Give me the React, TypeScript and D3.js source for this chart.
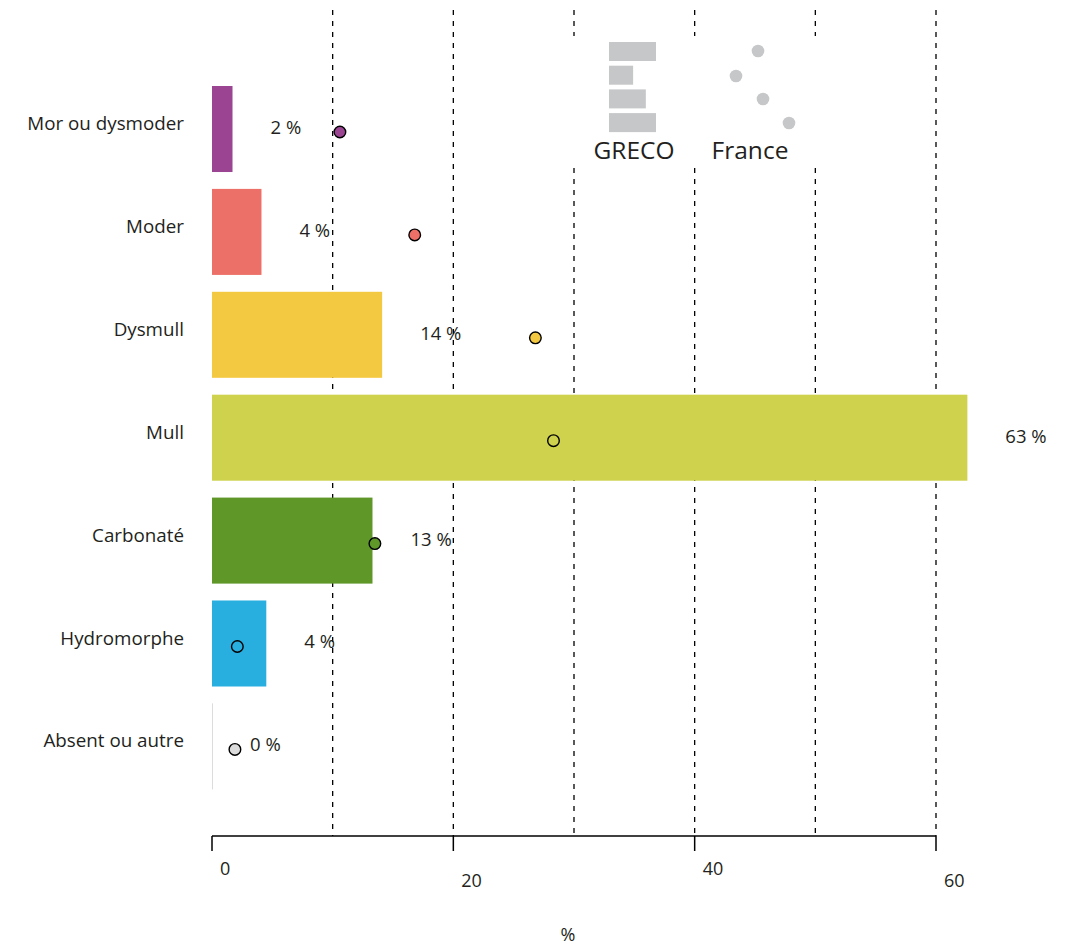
import React from "react";
import * as d3 from "d3";

const categories = ["Mor ou dysmoder", "Moder", "Dysmull", "Mull", "Carbonaté", "Hydromorphe", "Absent ou autre"];
const grecoValues = [1.7, 4.1, 14.1, 62.6, 13.3, 4.5, 0];
const grecoLabels = ["2 %", "4 %", "14 %", "63 %", "13 %", "4 %", "0 %"];
const franceValues = [10.6, 16.8, 26.8, 28.3, 13.5, 2.1, 1.9];
const colors = ["#9b4592", "#ec7068", "#f4c942", "#cfd24c", "#5f9728", "#29aee0", "#dcdcdc"];
const ticks = [0, 20, 40, 60];
const gridTicks = [10, 20, 30, 40, 50, 60];
const legendBars = [3.7, 1.9, 2.9, 3.7];

const FONT = "'Open Sans', 'Noto Sans', sans-serif";

export default function App() {
  const W = 1073, H = 946;
  const x = d3.scaleLinear().domain([0, 60]).range([212, 936]);
  const y = d3.scaleBand<string>().domain(categories).range([86, 789.4]).paddingInner(0.164).paddingOuter(0);
  const bw = y.bandwidth();
  const axisY = 836;
  const legendGapTop = 36, legendGapBottom = 168;

  return (
    <svg width={W} height={H} style={{ display: "block", position: "absolute", left: 0, top: 0 }} fontFamily={FONT}>
      <rect width={W} height={H} fill="#fff" />
      {gridTicks.map((t) => {
        const gx = x(t);
        const hasGap = t >= 30 && t <= 50;
        return hasGap ? (
          <g key={t}>
            <line x1={gx} x2={gx} y1={10} y2={legendGapTop} stroke="#000" strokeWidth={1.3} strokeDasharray="5,6" />
            <line x1={gx} x2={gx} y1={legendGapBottom} y2={axisY} stroke="#000" strokeWidth={1.3} strokeDasharray="5,6" />
          </g>
        ) : (
          <line key={t} x1={gx} x2={gx} y1={10} y2={axisY} stroke="#000" strokeWidth={1.3} strokeDasharray="5,6" />
        );
      })}
      {categories.map((c, i) => {
        const w = Math.max(1, x(grecoValues[i]) - x(0));
        return <rect key={c} x={x(0)} y={y(c)!} width={w} height={bw} fill={colors[i]} />;
      })}
      {categories.map((c) => (
        <text key={c} x={184} y={y(c)! + bw / 2 - 4} textAnchor="end" dominantBaseline="middle" fontSize={18.8} fill="#231f20">
          {c}
        </text>
      ))}
      {categories.map((c, i) => (
        <text key={c} x={x(grecoValues[i]) + 38} y={y(c)! + bw / 2} dominantBaseline="middle" fontSize={18.5} fill="#231f20">
          {grecoLabels[i]}
        </text>
      ))}
      {categories.map((c, i) => (
        <circle key={c} cx={x(franceValues[i])} cy={y(c)! + bw / 2 + 3} r={5.8} fill={colors[i]} stroke="#000" strokeWidth={1.4} />
      ))}
      <line x1={x(0)} x2={x(60)} y1={axisY} y2={axisY} stroke="#000" strokeWidth={1.5} />
      {ticks.map((t, i) => (
        <g key={t}>
          <line x1={x(t)} x2={x(t)} y1={axisY} y2={axisY + 15} stroke="#000" strokeWidth={1.5} />
          <text x={x(t) + 8} y={i % 2 === 0 ? 870 : 882} dominantBaseline="middle" fontSize={18} fill="#231f20">
            {t}
          </text>
        </g>
      ))}
      <text x={568} y={936} textAnchor="middle" dominantBaseline="middle" fontSize={18} fill="#231f20">%</text>
      {legendBars.map((v, i) => (
        <rect key={i} x={609} y={42 + i * 23.7} width={v * 12.7} height={19} fill="#c6c7c8" />
      ))}
      {[[758, 51], [736, 76], [763, 99], [789, 123]].map(([cx, cy], i) => (
        <circle key={i} cx={cx} cy={cy} r={6.3} fill="#c6c7c8" />
      ))}
      <text x={634} y={152} textAnchor="middle" dominantBaseline="middle" fontSize={24.5} fill="#231f20">GRECO</text>
      <text x={750} y={152} textAnchor="middle" dominantBaseline="middle" fontSize={24.5} fill="#231f20">France</text>
    </svg>
  );
}
